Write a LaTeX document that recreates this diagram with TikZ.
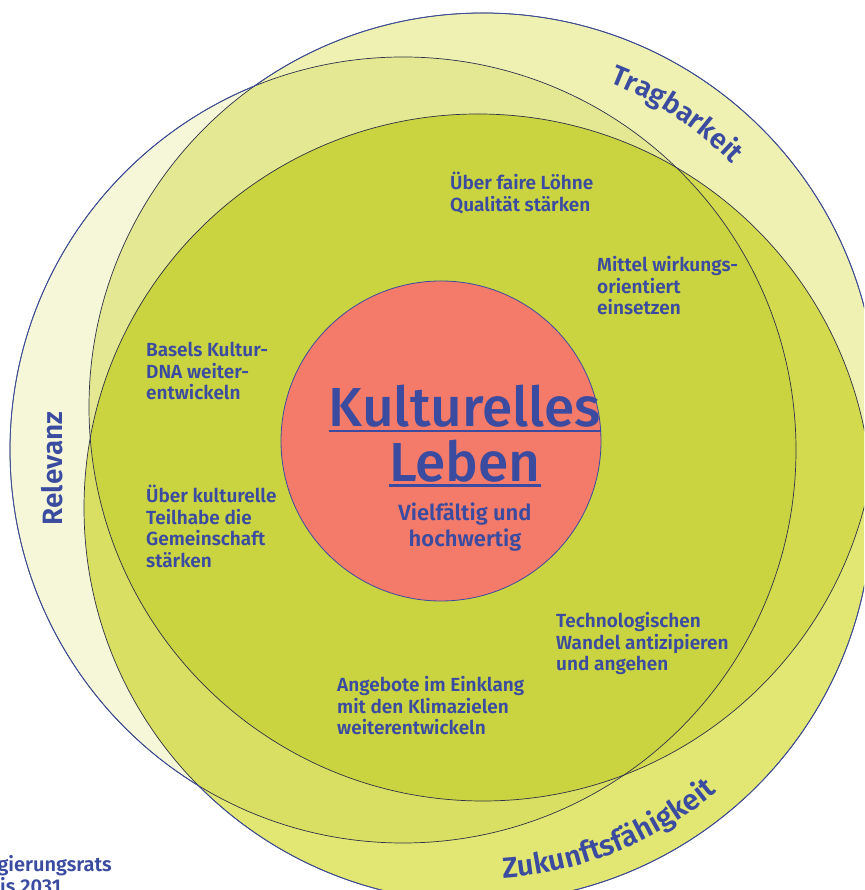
\documentclass[tikz,border=0pt]{standalone}
\usepackage{fontspec}
\setmainfont{Fira Sans}[BoldFont={Fira Sans SemiBold}]
\newfontfamily\titlefont{Fira Sans Medium}
\usetikzlibrary{decorations.text}
\definecolor{textblue}{HTML}{3A4BA0}
\definecolor{rimblue}{HTML}{3A4BA0}
\definecolor{seamdark}{HTML}{2F3248}
\definecolor{onlyR}{HTML}{F5F7D8}
\definecolor{onlyT}{HTML}{EEF1B2}
\definecolor{onlyZ}{HTML}{E2E672}
\definecolor{fillTR}{HTML}{E4E893}
\definecolor{fillRZ}{HTML}{D9DF62}
\definecolor{fillTZ}{HTML}{D4DA4E}
\definecolor{fillAll}{HTML}{CAD340}
\definecolor{corered}{HTML}{F47B6A}

\begin{document}
\begin{tikzpicture}[x=1pt,y=1pt,
    stmt/.style={font=\fontsize{19}{21.5}\selectfont\bfseries,text=textblue,
      align=left,anchor=base west,inner sep=0pt},
    ringlabel/.style={font=\fontsize{28}{28}\selectfont\bfseries,text=textblue,inner sep=0pt},
    rim/.style={draw=rimblue,line width=0.8pt},
    seam/.style={draw=seamdark,line width=0.7pt}]
\useasboundingbox (0,0) rectangle (864,890);
\clip (0,0) rectangle (864,890);
\def\radT{394}
\def\radR{393}
\def\radZ{394}
\coordinate (T) at (483,483);
\coordinate (R) at (403,440);
\coordinate (Z) at (478,382);
% ring fills
\fill[onlyR] (R) circle (\radR);
\fill[onlyT] (T) circle (\radT);
\fill[onlyZ] (Z) circle (\radZ);
\begin{scope}
  \clip (T) circle (\radT);
  \fill[fillTR] (R) circle (\radR);
\end{scope}
\begin{scope}
  \clip (R) circle (\radR);
  \fill[fillRZ] (Z) circle (\radZ);
\end{scope}
\begin{scope}
  \clip (T) circle (\radT);
  \fill[fillTZ] (Z) circle (\radZ);
\end{scope}
\begin{scope}
  \clip (T) circle (\radT);
  \clip (R) circle (\radR);
  \fill[fillAll] (Z) circle (\radZ);
\end{scope}
% seams inside, rims outside (frame runs clockwise, circle counter-clockwise)
\foreach \c/\rc in {T/\radT,R/\radR,Z/\radZ} \draw[seam] (\c) circle (\rc);
\foreach \c/\rc/\p/\rp/\q/\rq in {T/\radT/R/\radR/Z/\radZ,R/\radR/Z/\radZ/T/\radT,Z/\radZ/T/\radT/R/\radR}{
  \begin{scope}
    \clip (0,0) -- (0,890) -- (864,890) -- (864,0) -- cycle (\p) circle (\rp);
    \clip (0,0) -- (0,890) -- (864,890) -- (864,0) -- cycle (\q) circle (\rq);
    \draw[rim] (\c) circle (\rc);
  \end{scope}
}
% core (base of a multi-line node = its last line)
\node[circle,fill=corered,draw=rimblue,line width=0.8pt,minimum size=320pt,inner sep=0pt] (core) at (441,449) {};
\node[font=\titlefont\fontsize{55}{55}\selectfont,text=textblue,anchor=base,inner sep=0pt] (kult) at (465,463) {Kulturelles};
\node[font=\titlefont\fontsize{55}{55}\selectfont,text=textblue,anchor=base,inner sep=0pt] (leben) at (465,408) {Leben};
\draw[textblue,line width=2.7pt] ([yshift=-4pt]kult.base west) -- ([yshift=-4pt]kult.base east);
\draw[textblue,line width=2.7pt] ([yshift=-3.5pt]leben.base west) -- ([yshift=-3.5pt]leben.base east);
\node[font=\fontsize{22}{26}\selectfont\bfseries,text=textblue,align=center,anchor=base,inner sep=0pt] (vielf) at (465,343) {Vielfältig und\\hochwertig};
% statements
\node[stmt] (loehne) at (450,678.5) {Über faire Löhne\\Qualität stärken};
\node[stmt] (mittel) at (597,575) {Mittel wirkungs-\\orientiert\\einsetzen};
\node[stmt] (basels) at (146,490) {Basels Kultur-\\DNA weiter-\\entwickeln};
\node[stmt] (teilhabe) at (146,322.5) {Über kulturelle\\Teilhabe die\\Gemeinschaft\\stärken};
\node[stmt] (techno) at (556,219) {Technologischen\\Wandel antizipieren\\und angehen};
\node[stmt] (klima) at (337,155) {Angebote im Einklang\\mit den Klimazielen\\weiterentwickeln};
% ring labels
\node[ringlabel,anchor=base,rotate=90] (relevanz) at (62,421.5) {Relevanz};
\path[decorate,decoration={text along path,text align=center,text color=textblue,
    text={|\fontsize{28}{28}\selectfont\bfseries|Tragbarkeit}}]
  ([shift={(85:348)}]T) arc[start angle=85,end angle=28,radius=348];
\path[decorate,decoration={text along path,text align=center,text color=textblue,
    text={|\fontsize{29}{29}\selectfont\bfseries|Zukunftsfähigkeit}}]
  ([shift={(-104:371)}]Z) arc[start angle=-104,end angle=-32,radius=371];
% footer, cut at the page edge
\node[stmt,font=\fontsize{20}{22}\selectfont\bfseries,anchor=base east] (footname) at (112,18) {gierungsrats};
\node[stmt,font=\fontsize{20}{22}\selectfont\bfseries] (footyear) at (0,-4) {is 2031};
\end{tikzpicture}
\end{document}
